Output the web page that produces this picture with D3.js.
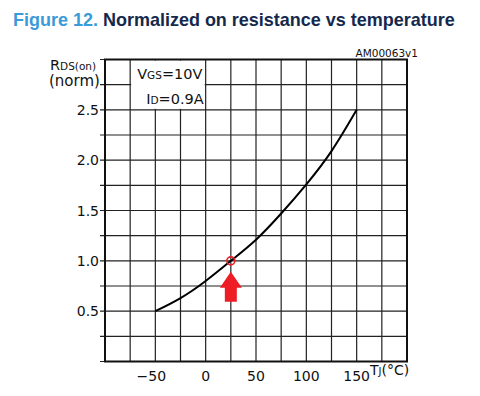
<!DOCTYPE html>
<html>
<head>
<meta charset="utf-8">
<script src="https://cdn.jsdelivr.net/npm/d3@7"></script>
<style>
  body { margin: 0; background: #fff; }
  text { font-family: "DejaVu Sans", sans-serif; fill: #111; }
  .title { font-family: "Liberation Sans", Arial, sans-serif; font-weight: bold; }
</style>
</head>
<body>
<div id="chart"></div>
<script>
// Chart data
var tempC = [-50, -25, 0, 25, 50, 75, 100, 125, 150];
var rdsNorm = [0.5, 0.63, 0.8, 1.0, 1.21, 1.47, 1.76, 2.09, 2.5];
var xTickLabels = [-50, 0, 50, 100, 150];
var yTickLabels = [0.5, 1.0, 1.5, 2.0, 2.5];
var xGrid = d3.range(-100, 201, 25);
var yGrid = d3.range(0, 3.01, 0.25);
var refTemp = 25;
var refValue = 1.0;

// SVG area
var svgWidth = 480;
var svgHeight = 396;

var margin = {
  top: 59.5,
  right: 73,
  bottom: 34.5,
  left: 105
};

var chartWidth = svgWidth - margin.left - margin.right;
var chartHeight = svgHeight - margin.top - margin.bottom;

var svg = d3.select("#chart")
  .append("svg")
  .attr("width", svgWidth)
  .attr("height", svgHeight);

// Title, shrunk to fit the width it has in the original
var title = svg.append("text")
  .attr("class", "title")
  .attr("x", 13)
  .attr("y", 26)
  .style("font-size", "20px");
title.append("tspan").style("fill", "#3b9bd8").text("Figure 12. ");
title.append("tspan").style("fill", "#15294d").text("Normalized on resistance vs temperature");
var titleLen = title.node().getComputedTextLength();
if (titleLen > 442) {
  title.style("font-size", (20 * 442 / titleLen).toFixed(2) + "px");
}

svg.append("text")
  .attr("x", 418)
  .attr("y", 57)
  .attr("text-anchor", "end")
  .style("font-size", "10.5px")
  .text("AM00063v1");

var chartGroup = svg.append("g")
  .attr("transform", `translate(${margin.left}, ${margin.top})`);

var xScale = d3.scaleLinear()
  .domain([-100, 200])
  .range([0, chartWidth]);

var yScale = d3.scaleLinear()
  .domain([0, 3])
  .range([chartHeight, 0]);

// grid lines
chartGroup.selectAll(".vgrid")
  .data(xGrid)
  .enter()
  .append("line")
  .attr("x1", d => xScale(d))
  .attr("x2", d => xScale(d))
  .attr("y1", 0)
  .attr("y2", chartHeight)
  .attr("stroke", "#222")
  .attr("stroke-width", 1.2);

chartGroup.selectAll(".hgrid")
  .data(yGrid)
  .enter()
  .append("line")
  .attr("x1", -5)
  .attr("x2", chartWidth)
  .attr("y1", d => yScale(d))
  .attr("y2", d => yScale(d))
  .attr("stroke", "#222")
  .attr("stroke-width", 1.2);

// white box for the test conditions
chartGroup.append("rect")
  .attr("x", xScale(-75) + 1)
  .attr("y", 1)
  .attr("width", xScale(0) - xScale(-75) - 2)
  .attr("height", yScale(2.5) - 2)
  .attr("fill", "#fff");

var vgs = chartGroup.append("text")
  .attr("x", xScale(-75) + 7)
  .attr("y", 19)
  .style("font-size", "14.5px");
vgs.append("tspan").text("V");
vgs.append("tspan").style("font-size", "10.5px").text("GS");
vgs.append("tspan").text("=10V");

var idText = chartGroup.append("text")
  .attr("x", xScale(0) - 2)
  .attr("y", 44)
  .attr("text-anchor", "end")
  .style("font-size", "14.5px");
idText.append("tspan").text("I");
idText.append("tspan").style("font-size", "10.5px").text("D");
idText.append("tspan").text("=0.9A");

// frame
chartGroup.append("rect")
  .attr("x", 0)
  .attr("y", 0)
  .attr("width", chartWidth)
  .attr("height", chartHeight)
  .attr("fill", "none")
  .attr("stroke", "#111")
  .attr("stroke-width", 2);

// curve
var drawLine = d3.line()
  .x((d, i) => xScale(tempC[i]))
  .y(d => yScale(d))
  .curve(d3.curveNatural);

chartGroup.append("path")
  .attr("d", drawLine(rdsNorm))
  .attr("fill", "none")
  .attr("stroke", "#000")
  .attr("stroke-width", 2);

// reference marker and arrow
var rx = xScale(refTemp);
var ry = yScale(refValue);

chartGroup.append("circle")
  .attr("cx", rx)
  .attr("cy", ry)
  .attr("r", 4)
  .attr("fill", "none")
  .attr("stroke", "#e8202a")
  .attr("stroke-width", 1.6);

chartGroup.append("path")
  .attr("d", `M${rx},${ry + 11} L${rx + 11},${ry + 27} L${rx + 6},${ry + 27} L${rx + 6},${ry + 41}` +
    ` L${rx - 6},${ry + 41} L${rx - 6},${ry + 27} L${rx - 11},${ry + 27} Z`)
  .attr("fill", "#ee1c25");

// tick labels
chartGroup.selectAll(".ylab")
  .data(yTickLabels)
  .enter()
  .append("text")
  .attr("x", -6)
  .attr("y", d => yScale(d) + 5)
  .attr("text-anchor", "end")
  .style("font-size", "14px")
  .text(d => d.toFixed(1));

chartGroup.selectAll(".xlab")
  .data(xTickLabels)
  .enter()
  .append("text")
  .attr("x", d => xScale(d) + (d < 0 ? -4 : 0))
  .attr("y", chartHeight + 19)
  .attr("text-anchor", "middle")
  .style("font-size", "14px")
  .text(d => d < 0 ? "\u2212" + Math.abs(d) : d);

// axis labels
var xLabel = chartGroup.append("text")
  .attr("x", chartWidth - 37)
  .attr("y", chartHeight + 13)
  .style("font-size", "14px");
xLabel.append("tspan").text("T");
xLabel.append("tspan").style("font-size", "10px").text("J");
xLabel.append("tspan").text("(\u00b0C)");

var yLabel = svg.append("text")
  .attr("x", 50)
  .attr("y", 70)
  .style("font-size", "14.5px");
yLabel.append("tspan").text("R");
yLabel.append("tspan").style("font-size", "10.5px").text("DS(on)");

svg.append("text")
  .attr("x", 49)
  .attr("y", 86)
  .style("font-size", "15px")
  .text("(norm)");
</script>
</body>
</html>
